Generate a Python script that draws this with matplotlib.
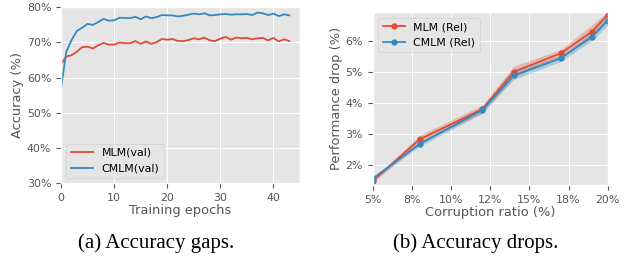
import matplotlib
matplotlib.use("Agg")
import matplotlib.pyplot as plt
from matplotlib.ticker import PercentFormatter
import numpy as np

plt.style.use("ggplot")
plt.rcParams["font.family"] = ["DejaVu Sans"]
plt.rcParams["font.size"] = 7.9
plt.rcParams["axes.labelsize"] = 9.4

# Panel (a): accuracy over training epochs
epochs = list(range(44))
mlm_val = [63.9, 66.0, 66.4, 67.4, 68.7, 68.8, 68.3, 69.2, 69.9, 69.4,
           69.4, 70.0, 69.8, 69.8, 70.4, 69.6, 70.3, 69.6, 70.1, 71.0,
           70.8, 71.0, 70.4, 70.4, 70.7, 71.2, 70.9, 71.4, 70.6, 70.4,
           71.1, 71.6, 70.8, 71.4, 71.2, 71.3, 70.9, 71.2, 71.3, 70.6,
           71.3, 70.3, 70.9, 70.4]
cmlm_val = [57.0, 67.4, 70.7, 73.3, 74.2, 75.3, 75.0, 75.8, 76.7, 76.2,
            76.3, 77.0, 77.0, 76.9, 77.3, 76.6, 77.4, 76.9, 77.2, 77.8,
            77.7, 77.7, 77.4, 77.6, 77.9, 78.2, 78.0, 78.3, 77.7, 77.8,
            78.0, 78.1, 77.9, 78.0, 78.0, 78.1, 77.8, 78.5, 78.3, 77.8,
            78.2, 77.5, 78.0, 77.7]

# Panel (b): performance drop vs corruption ratio
ratio = [5, 8, 12, 14, 17, 19, 20]
mlm_rel = [1.49, 2.83, 3.80, 5.00, 5.59, 6.29, 6.83]
mlm_err = [0.05, 0.13, 0.13, 0.18, 0.12, 0.22, 0.10]
cmlm_rel = [1.57, 2.68, 3.77, 4.88, 5.43, 6.13, 6.64]
cmlm_err = [0.05, 0.08, 0.10, 0.13, 0.10, 0.13, 0.15]

red = "#E24A33"
blue = "#348ABD"

fig = plt.figure(figsize=(6.27, 2.56), dpi=100)
ax1 = fig.add_axes([0.0973, 0.284, 0.4785 - 0.0973, 0.9715 - 0.284])
ax2 = fig.add_axes([0.5944, 0.277, 0.9692 - 0.5944, 0.952 - 0.277])

ax1.plot(epochs, mlm_val, color=red, lw=1.3, label="MLM(val)")
ax1.plot(epochs, cmlm_val, color=blue, lw=1.3, label="CMLM(val)")
ax1.set_xlim(0, 45)
ax1.set_ylim(30, 80)
ax1.set_xticks([0, 10, 20, 30, 40])
ax1.set_yticks([30, 40, 50, 60, 70, 80])
ax1.yaxis.set_major_formatter(PercentFormatter(decimals=0))
ax1.set_xlabel("Training epochs", labelpad=1)
ax1.set_ylabel("Accuracy (%)", labelpad=2)
ax1.legend(loc="lower left", fontsize=7.9)

ax2.fill_between(ratio, np.array(mlm_rel) - np.array(mlm_err),
                 np.array(mlm_rel) + np.array(mlm_err), color=red, alpha=0.3, lw=0)
ax2.fill_between(ratio, np.array(cmlm_rel) - np.array(cmlm_err),
                 np.array(cmlm_rel) + np.array(cmlm_err), color=blue, alpha=0.3, lw=0)
ax2.plot(ratio, mlm_rel, color=red, lw=1.3, marker="o", ms=3.5, label="MLM (Rel)")
ax2.plot(ratio, cmlm_rel, color=blue, lw=1.3, marker="o", ms=3.5, label="CMLM (Rel)")
ax2.set_xlim(5, 20)
ax2.set_ylim(1.36, 6.91)
ax2.set_xticks([5, 7.5, 10, 12.5, 15, 17.5, 20])
ax2.set_yticks([2, 3, 4, 5, 6])
ax2.xaxis.set_major_formatter(PercentFormatter(decimals=0))
ax2.yaxis.set_major_formatter(PercentFormatter(decimals=0))
ax2.set_xlabel("Corruption ratio (%)", labelpad=1)
ax2.set_ylabel("Performance drop (%)", labelpad=2)
ax2.legend(loc="upper left", fontsize=7.9)

fig.text(0.249, 0.051, "(a) Accuracy gaps.", ha="center", va="center",
         family="Liberation Serif", fontsize=15, color="black")
fig.text(0.759, 0.051, "(b) Accuracy drops.", ha="center", va="center",
         family="Liberation Serif", fontsize=15, color="black")

fig.savefig("out.png", dpi=100)
